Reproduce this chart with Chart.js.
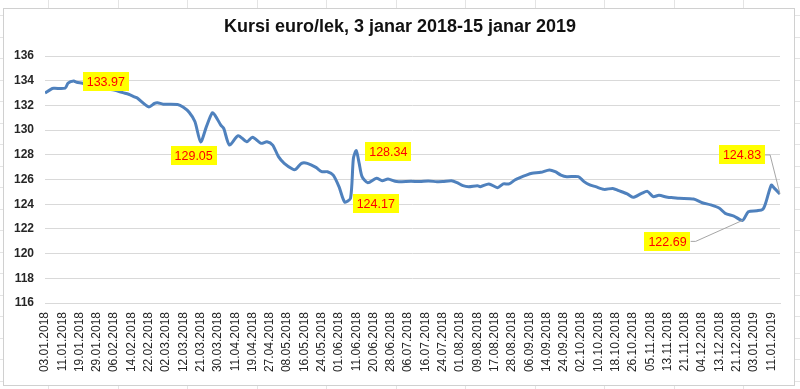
<!DOCTYPE html>
<html>
<head>
<meta charset="utf-8">
<script src="https://cdn.jsdelivr.net/npm/chart.js@4.4.1/dist/chart.umd.min.js"></script>
<style>
  html, body { margin: 0; padding: 0; background: #fff; }
  #wrap { width: 800px; height: 389px; }
</style>
</head>
<body>
<div id="wrap"><canvas id="grafiku"></canvas></div>
<script>
// ── TE DHENAT ────────────────────────────────────────────────
const titulli = 'Kursi euro/lek, 3 janar 2018-15 janar 2019';

// etiketat e boshtit X (cdo 6 dite tregtimi)
const etiketatData = [
    '03.01.2018', '11.01.2018', '19.01.2018', '29.01.2018', '06.02.2018', '14.02.2018',
    '22.02.2018', '02.03.2018', '12.03.2018', '21.03.2018', '30.03.2018', '11.04.2018',
    '19.04.2018', '27.04.2018', '08.05.2018', '16.05.2018', '24.05.2018', '01.06.2018',
    '11.06.2018', '20.06.2018', '28.06.2018', '06.07.2018', '16.07.2018', '24.07.2018',
    '01.08.2018', '09.08.2018', '17.08.2018', '28.08.2018', '06.09.2018', '14.09.2018',
    '24.09.2018', '02.10.2018', '10.10.2018', '18.10.2018', '26.10.2018', '05.11.2018',
    '13.11.2018', '21.11.2018', '04.12.2018', '13.12.2018', '21.12.2018', '03.01.2019',
    '11.01.2019',
];
const hapiEtiketave = 6;
const ditaFundit = 255;

// numri i dites se tregtimit (0 = 03.01.2018)
const ditaIndeks = [
    0, 2, 3, 7, 8, 10, 11, 13, 16, 19, 24, 27, 29, 31, 32, 36, 38, 39, 41, 46,
    48, 50, 52, 54, 56, 58, 59, 61, 62, 64, 67, 70, 72, 75, 77, 79, 81, 83, 86, 87,
    89, 91, 94, 96, 98, 100, 102, 104, 106, 107, 108, 109, 110, 112, 115, 117, 119, 122, 127, 130,
    133, 136, 138, 141, 143, 145, 147, 150, 151, 154, 157, 159, 161, 163, 165, 167, 169, 172, 175, 177,
    179, 181, 185, 187, 189, 191, 194, 197, 199, 202, 204, 207, 209, 211, 213, 216, 218, 220, 225, 228,
    231, 234, 236, 239, 242, 244, 247, 249, 250, 252, 253, 255,
];

// kursi euro/lek
const kursi = [
    133.00, 133.30, 133.38, 133.40, 133.80, 133.97, 133.87, 133.80, 133.60, 133.45,
    133.25, 133.03, 132.90, 132.70, 132.60, 131.88, 132.17, 132.22, 132.10, 132.07,
    131.85, 131.45, 130.70, 129.05, 130.28, 131.40, 131.20, 130.40, 130.14, 128.79,
    129.55, 129.06, 129.42, 128.93, 129.06, 128.79, 127.85, 127.31, 126.83, 126.83,
    127.31, 127.31, 126.98, 126.63, 126.63, 126.36, 125.42, 124.17, 124.48, 127.72,
    128.34, 127.30, 126.23, 125.74, 126.10, 125.90, 126.04, 125.83, 125.86, 125.83,
    125.88, 125.82, 125.83, 125.90, 125.74, 125.50, 125.42, 125.50, 125.42, 125.64,
    125.34, 125.64, 125.64, 125.96, 126.18, 126.36, 126.50, 126.58, 126.77, 126.63,
    126.36, 126.23, 126.23, 125.83, 125.56, 125.42, 125.20, 125.28, 125.10, 124.83,
    124.56, 124.88, 125.04, 124.61, 124.72, 124.56, 124.53, 124.48, 124.42, 124.12,
    123.94, 123.67, 123.26, 123.04, 122.69, 123.39, 123.47, 123.58, 124.07, 125.55,
    125.30, 124.83,
];

// pikat me etikete vlere (dita e tregtimit)
const pikatEtiketuara = [10, 54, 108, 104, 242, 255];

const yMin = 116, yMax = 136, yHapi = 2;

// ── STILI ────────────────────────────────────────────────────
Chart.defaults.font.family = "'Liberation Sans', Arial, sans-serif";
Chart.defaults.color = '#404040';

const NGJYRA = {
    vija: '#4f81bd',
    rrjeta: '#d9d9d9',
    kutia: '#ffff00',
    teksti: '#ff0000',
    udhezuesi: '#a6a6a6',
};

// zhvendosja e kutise nga pika: [dx, dy, me vije udhezuese]
const zhvendosjet = {
    10: [32, 0, false],
    54: [-7, 14, false],
    108: [32, 1, false],
    104: [31, 1, false],
    242: [-75, 21, true],
    255: [-38, -39, true],
};

// sfondi i fletes excel + korniza e grafikut
const sfondi = {
    id: 'sfondi',
    beforeDraw(chart) {
        const { ctx, width, height } = chart;
        ctx.save();
        ctx.fillStyle = '#fff';
        ctx.fillRect(0, 0, width, height);
        ctx.strokeStyle = '#e4e4e4';
        ctx.lineWidth = 1;
        for (let x = 48; x < width; x += 69.5) {
            ctx.beginPath();
            ctx.moveTo(Math.round(x) + 0.5, 0);
            ctx.lineTo(Math.round(x) + 0.5, height);
            ctx.stroke();
        }
        for (let y = 15; y < height; y += 21.5) {
            ctx.beginPath();
            ctx.moveTo(0, Math.round(y) + 0.5);
            ctx.lineTo(width, Math.round(y) + 0.5);
            ctx.stroke();
        }
        ctx.fillStyle = '#fff';
        ctx.fillRect(3, 8, 791, 377);
        ctx.strokeStyle = '#d0d0d0';
        ctx.strokeRect(3.5, 8.5, 791, 377);
        ctx.restore();
    },
};

// etiketat e verdha me vlerat
const etiketatVlerave = {
    id: 'etiketatVlerave',
    afterDatasetsDraw(chart) {
        const { ctx, scales } = chart;
        ctx.save();
        ctx.font = "12.5px 'Liberation Sans', Arial, sans-serif";
        ctx.textAlign = 'center';
        ctx.textBaseline = 'middle';
        pikatEtiketuara.forEach(dita => {
            const k = ditaIndeks.indexOf(dita);
            if (k < 0) return;
            const vlera = kursi[k];
            const px = scales.x.getPixelForValue(dita);
            const py = scales.y.getPixelForValue(vlera);
            const [dx, dy, udhezues] = zhvendosjet[dita];
            const cx = px + dx, cy = py + dy;
            const teksti = vlera.toFixed(2);
            const w = ctx.measureText(teksti).width + 8;
            const h = 19;
            if (udhezues) {
                ctx.strokeStyle = NGJYRA.udhezuesi;
                ctx.lineWidth = 1;
                ctx.beginPath();
                ctx.moveTo(cx + w / 2, cy);
                ctx.lineTo(cx + w / 2 + 5, cy);
                ctx.lineTo(px, py);
                ctx.stroke();
            }
            ctx.fillStyle = NGJYRA.kutia;
            ctx.fillRect(Math.round(cx - w / 2), Math.round(cy - h / 2), Math.round(w), h);
            ctx.fillStyle = NGJYRA.teksti;
            ctx.fillText(teksti, cx, cy + 1);
        });
        ctx.restore();
    },
};

// ── GRAFIKU ──────────────────────────────────────────────────
new Chart(document.getElementById('grafiku'), {
    type: 'line',
    data: {
        datasets: [{
            data: ditaIndeks.map((d, i) => ({ x: d, y: kursi[i] })),
            borderColor: NGJYRA.vija,
            borderWidth: 3,
            pointRadius: 0,
            tension: 0.25,
            fill: false,
        }],
    },
    options: {
        responsive: true,
        maintainAspectRatio: false,
        animation: false,
        devicePixelRatio: 1,
        layout: { padding: 0 },
        plugins: {
            legend: { display: false },
            tooltip: { enabled: false },
            title: {
                display: true,
                text: titulli,
                color: '#111',
                font: { size: 18, weight: 'bold' },
                padding: { top: 16, bottom: 18.4 },
            },
        },
        scales: {
            x: {
                type: 'linear',
                min: 0,
                max: ditaFundit,
                afterBuildTicks: s => {
                    s.ticks = etiketatData.map((_, k) => ({ value: k * hapiEtiketave }));
                },
                afterFit: s => { s.height = 86; },
                grid: { display: false, drawTicks: false },
                border: { color: NGJYRA.rrjeta },
                ticks: {
                    autoSkip: false,
                    maxRotation: 90,
                    minRotation: 90,
                    padding: 9,
                    color: '#262626',
                    font: { size: 12 },
                    callback: v => etiketatData[Math.round(v / hapiEtiketave)] || '',
                },
            },
            y: {
                min: yMin,
                max: yMax,
                afterFit: s => { s.width = 45; },
                grid: { color: NGJYRA.rrjeta, drawTicks: false },
                border: { display: false },
                ticks: {
                    stepSize: yHapi,
                    padding: 11,
                    color: '#262626',
                    font: { size: 12, weight: 'bold' },
                },
            },
            // hapesire bosh djathtas
            bosh: {
                position: 'right',
                afterFit: s => { s.width = 20; },
                grid: { display: false, drawTicks: false },
                border: { display: false },
                ticks: { display: false },
            },
        },
    },
    plugins: [sfondi, etiketatVlerave],
});
</script>
</body>
</html>
